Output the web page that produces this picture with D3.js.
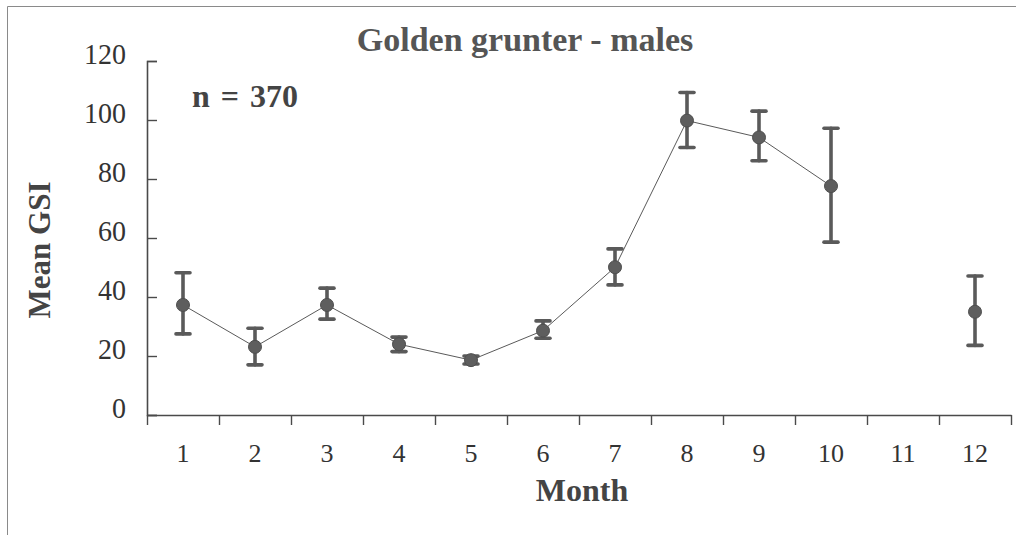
<!DOCTYPE html>
<html>
<head>
<meta charset="utf-8">
<script src="https://cdn.jsdelivr.net/npm/d3@7/dist/d3.min.js"></script>
<style>
  html, body { margin: 0; padding: 0; background: #fff; }
  svg { display: block; }
  text { font-family: "Liberation Serif", "Times New Roman", serif; }
</style>
</head>
<body>
<svg id="chart" width="1016" height="535"></svg>
<script>
// Monthly mean gonadosomatic index, golden grunter males
const months = [1, 2, 3, 4, 5, 6, 7, 8, 9, 10, 11, 12];
const meanGSI = [37.3, 23.1, 37.3, 24.0, 18.6, 28.6, 50.1, 99.8, 94.1, 77.6, null, 35.0];
const upperGSI = [48.2, 29.4, 43.0, 26.4, 20.0, 31.9, 56.3, 109.3, 103.0, 97.2, null, 47.1];
const lowerGSI = [27.5, 17.0, 32.5, 21.5, 17.3, 26.0, 44.1, 90.7, 86.2, 58.6, null, 23.6];
const yTicks = [0, 20, 40, 60, 80, 100, 120];
const titleText = "Golden grunter - males";
const sampleText = "n = 370";

const rows = months.map((m, i) => ({ m, mean: meanGSI[i], hi: upperGSI[i], lo: lowerGSI[i] }));

const svg = d3.select("#chart");
const ink = "#4a4a4a";

// page frame (top and left edges)
svg.append("path")
  .attr("d", "M7.5,535 L7.5,6.5 L1016,6.5")
  .attr("fill", "none").attr("stroke", "#8a8a8a").attr("stroke-width", 1);

const x = d3.scaleLinear().domain([0.5, 12.5]).range([147, 1011]);
const y = d3.scaleLinear().domain([0, 120]).range([415, 61]);

// y axis
const yAxis = svg.append("g").attr("transform", "translate(147,0)")
  .call(d3.axisRight(y).tickValues(yTicks).tickSize(10).tickFormat(""));
yAxis.select(".domain").attr("stroke", ink).attr("stroke-width", 1.6);
yAxis.selectAll(".tick line").attr("stroke", ink).attr("stroke-width", 1.4);

svg.append("g").selectAll("text").data(yTicks).join("text")
  .attr("transform", d => `translate(126,${y(d) + 3}) scale(1,1.08)`)
  .attr("text-anchor", "end")
  .attr("font-size", 28).attr("fill", "#333")
  .text(d => d);

// x axis: ticks at month boundaries, labels at month centres
const xAxis = svg.append("g").attr("transform", "translate(0,415)")
  .call(d3.axisBottom(x).tickValues(d3.range(0.5, 13, 1)).tickSize(10).tickSizeOuter(0).tickFormat(""));
xAxis.select(".domain").attr("stroke", ink).attr("stroke-width", 1.6);
xAxis.selectAll(".tick line").attr("stroke", ink).attr("stroke-width", 1.4);

svg.append("g").selectAll("text").data(months).join("text")
  .attr("x", d => x(d)).attr("y", 462)
  .attr("text-anchor", "middle")
  .attr("font-size", 26).attr("fill", "#333")
  .text(d => d);

// connecting line (gap where a month has no sample)
const line = d3.line()
  .defined(d => d.mean != null)
  .x(d => x(d.m)).y(d => y(d.mean));
svg.append("path").datum(rows)
  .attr("d", line)
  .attr("fill", "none").attr("stroke", "#5a5a5a").attr("stroke-width", 1);

const pts = rows.filter(d => d.mean != null);

// error bars
const eb = svg.append("g").attr("stroke", "#5a5a5a").attr("stroke-width", 3.6).attr("stroke-linecap", "round");
eb.selectAll("line.v").data(pts).join("line").attr("class", "v")
  .attr("x1", d => x(d.m)).attr("x2", d => x(d.m))
  .attr("y1", d => y(d.hi)).attr("y2", d => y(d.lo));
eb.selectAll("line.t").data(pts).join("line").attr("class", "t")
  .attr("x1", d => x(d.m) - 7).attr("x2", d => x(d.m) + 7)
  .attr("y1", d => y(d.hi)).attr("y2", d => y(d.hi));
eb.selectAll("line.b").data(pts).join("line").attr("class", "b")
  .attr("x1", d => x(d.m) - 7).attr("x2", d => x(d.m) + 7)
  .attr("y1", d => y(d.lo)).attr("y2", d => y(d.lo));

// markers
svg.append("g").selectAll("circle").data(pts).join("circle")
  .attr("cx", d => x(d.m)).attr("cy", d => y(d.mean)).attr("r", 6.5)
  .attr("fill", "#5e5e5e").attr("stroke", "#4e4e4e").attr("stroke-width", 1);

// title and annotations
svg.append("text").attr("x", 525).attr("y", 51).attr("text-anchor", "middle")
  .attr("font-size", 34).attr("font-weight", "bold").attr("fill", "#555")
  .text(titleText);

svg.append("text").attr("x", 192).attr("y", 107)
  .attr("font-size", 32).attr("font-weight", "bold").attr("fill", "#444")
  .attr("word-spacing", 3)
  .text(sampleText);

svg.append("text").attr("x", 582).attr("y", 501).attr("text-anchor", "middle")
  .attr("font-size", 32).attr("font-weight", "bold").attr("fill", "#444")
  .text("Month");

svg.append("text")
  .attr("transform", "translate(50,250) rotate(-90)")
  .attr("text-anchor", "middle")
  .attr("font-size", 31).attr("font-weight", "bold").attr("fill", "#444")
  .text("Mean GSI");
</script>
</body>
</html>
